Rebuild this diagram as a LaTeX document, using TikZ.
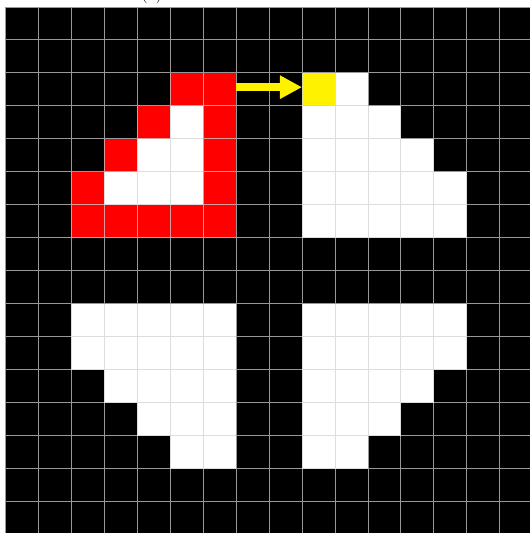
\documentclass[tikz,border=0pt]{standalone}
\usetikzlibrary{arrows.meta}
\begin{document}
\begin{tikzpicture}[>=Triangle,x=1cm,y=1cm,
	gridline/.style={draw=black!18,opacity=0.73,line width=0.03cm},
	arrowline/.style={yellow,line width=0.24cm,-{Triangle[length=0.67cm,width=0.67cm]}}]
	\def\sq(#1,#2){(#1,-#2) rectangle ++(1,-1)}
	\useasboundingbox (-0.1515,0.212) rectangle (15.909,-15.94);
	%Nền đen:
	\fill[black] (0,0) rectangle (16,-16);
	%Hình trên trái (viền đỏ):
	\foreach \r/\a/\b in {2/5/6,3/4/4,3/6/6,4/3/3,4/6/6,5/2/2,5/6/6,6/2/6}
		\foreach \c in {\a,...,\b} \fill[red] \sq(\c,\r);
	\foreach \r/\a/\b in {3/5/5,4/4/5,5/3/5}
		\foreach \c in {\a,...,\b} \fill[white] \sq(\c,\r);
	%Hình trên phải:
	\fill[yellow] \sq(9,2);
	\foreach \r/\a/\b in {2/10/10,3/9/11,4/9/12,5/9/13,6/9/13}
		\foreach \c in {\a,...,\b} \fill[white] \sq(\c,\r);
	%Hai hình dưới:
	\foreach \r/\a/\b in {9/2/6,10/2/6,11/3/6,12/4/6,13/5/6,9/9/13,10/9/13,11/9/12,12/9/11,13/9/10}
		\foreach \c in {\a,...,\b} \fill[white] \sq(\c,\r);
	%Lưới:
	\draw[gridline] (0,0) grid (16,-16);
	\path
	(7,-2.43) coordinate (S)
	(9,-2.43) coordinate (T)
	(4.45,0.24) node[anchor=base,font=\Large] (lbl) {(a)};
	\draw[arrowline] (S)--(T);
\end{tikzpicture}
\end{document}
